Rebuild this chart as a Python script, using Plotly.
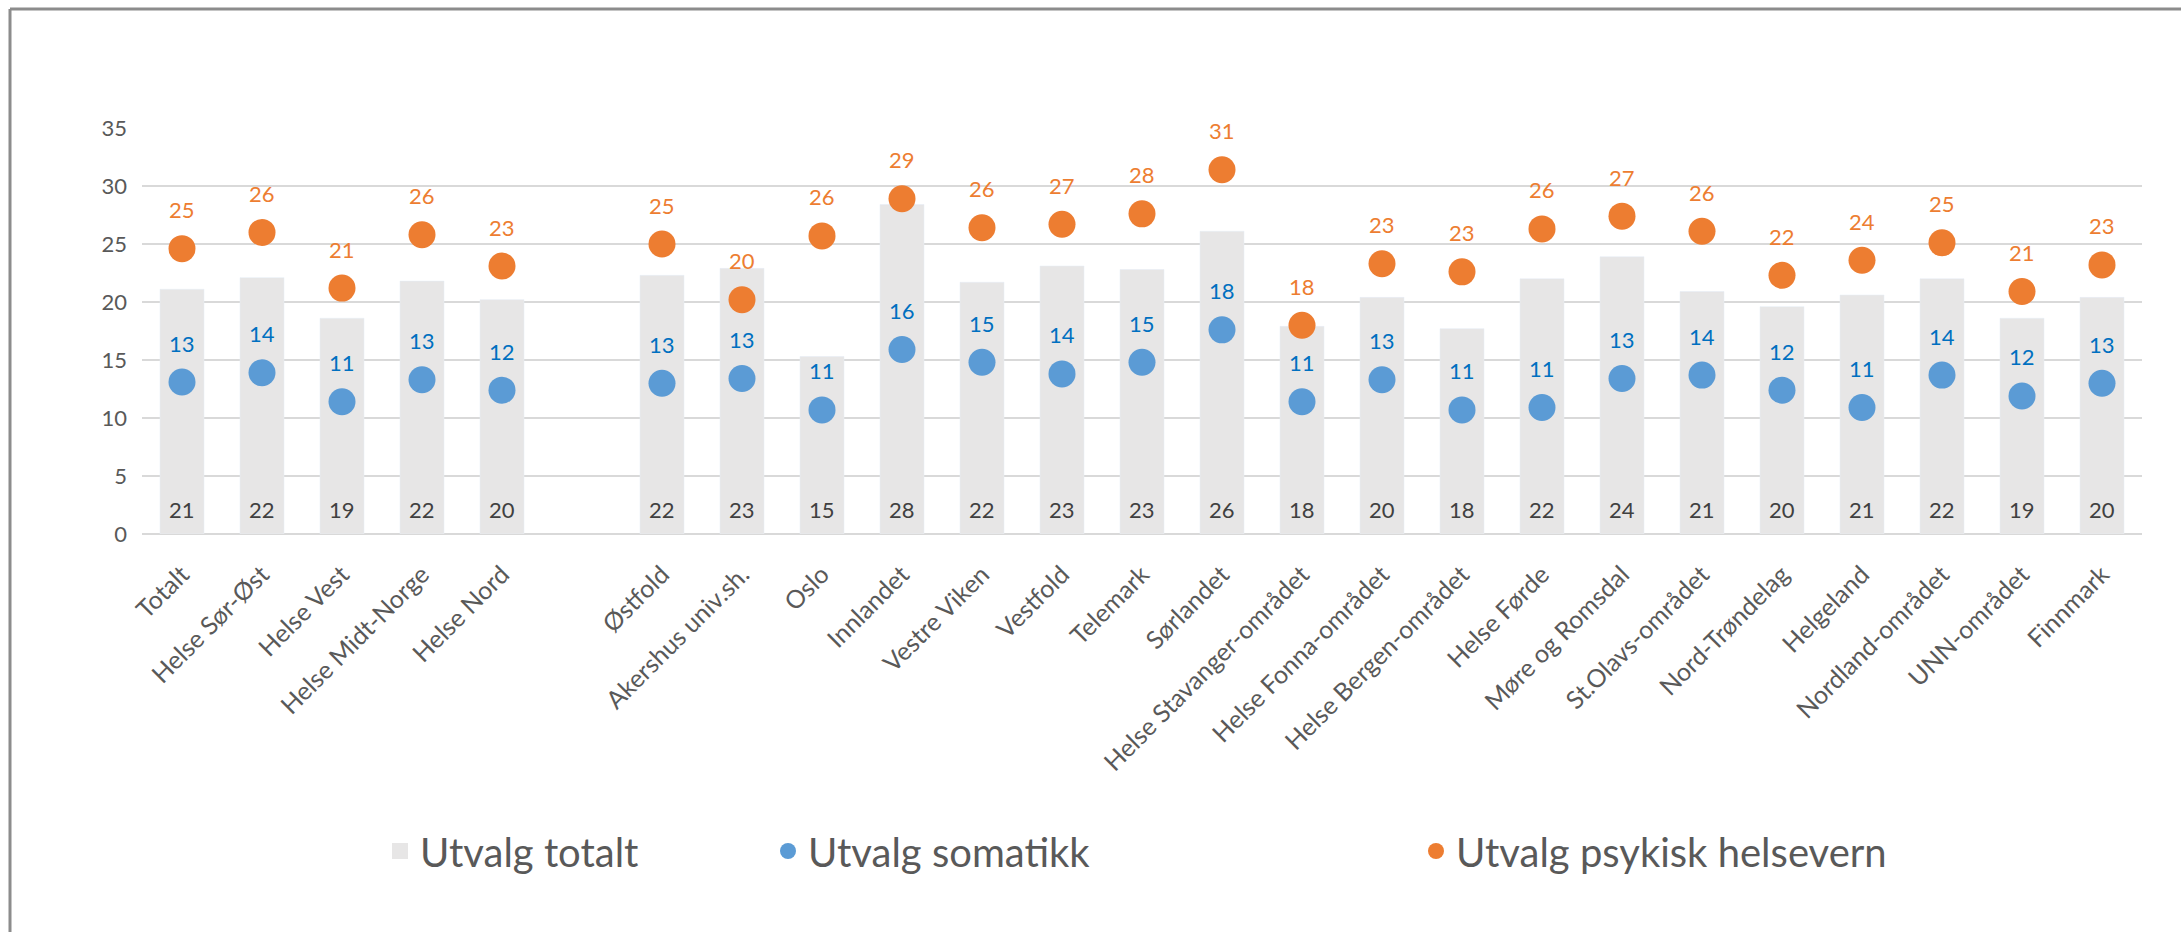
import plotly.graph_objects as go

# categories (one blank slot separates the regions from the hospital areas)
CATEGORIES = [
    "Totalt", "Helse Sør-Øst", "Helse Vest", "Helse Midt-Norge", "Helse Nord",
    " ",
    "Østfold", "Akershus univ.sh.", "Oslo", "Innlandet", "Vestre Viken",
    "Vestfold", "Telemark", "Sørlandet", "Helse Stavanger-området",
    "Helse Fonna-området", "Helse Bergen-området", "Helse Førde",
    "Møre og Romsdal", "St.Olavs-området", "Nord-Trøndelag", "Helgeland",
    "Nordland-området", "UNN-området", "Finnmark",
]

UTVALG_TOTALT = [
    21.1, 22.1, 18.6, 21.8, 20.2,
    None,
    22.3, 22.9, 15.3, 28.4, 21.7, 23.1, 22.8, 26.1, 17.9, 20.4, 17.7, 22.0,
    23.9, 20.9, 19.6, 20.6, 22.0, 18.6, 20.4,
]

UTVALG_SOMATIKK = [
    13.1, 13.9, 11.4, 13.3, 12.4,
    None,
    13.0, 13.4, 10.7, 15.9, 14.8, 13.8, 14.8, 17.6, 11.4, 13.3, 10.7, 10.9,
    13.4, 13.7, 12.4, 10.9, 13.7, 11.9, 13.0,
]

UTVALG_PSYKISK = [
    24.6, 26.0, 21.2, 25.8, 23.1,
    None,
    25.0, 20.2, 25.7, 28.9, 26.4, 26.7, 27.6, 31.4, 18.0, 23.3, 22.6, 26.3,
    27.4, 26.1, 22.3, 23.6, 25.1, 20.9, 23.2,
]

Y_TICKS = [0, 5, 10, 15, 20, 25, 30, 35]

FONT = "Lato, 'Open Sans', sans-serif"
GREY_BAR = "#E7E6E6"
BLUE = "#5B9BD5"
BLUE_TEXT = "#0070C0"
ORANGE = "#ED7D31"
TEXT_GREY = "#595959"
LABEL_SIZE = 22

# plot area in pixels (used to place the frame and legends)
W, H = 2181, 932
L, R, T, B = 142, 39, 128, 398
PW, PH = W - L - R, H - T - B


def px_x(x):
    return (x - L) / PW


def px_y(y):
    return (H - B - y) / PH


def value_labels(values, color, shift, at_base=False):
    """Data labels placed a fixed pixel distance above the point (or the bar base)."""
    notes = []
    for cat, val in zip(CATEGORIES, values):
        if val is None:
            continue
        notes.append(dict(
            x=cat, y=0 if at_base else val, xref="x", yref="y",
            text=f"{val:.0f}", showarrow=False, yanchor="middle",
            yshift=shift,
            font=dict(family=FONT, size=LABEL_SIZE, color=color)))
    return notes


fig = go.Figure()

fig.add_trace(
    go.Bar(
        name="Utvalg totalt",
        x=CATEGORIES,
        y=UTVALG_TOTALT,
        marker_color=GREY_BAR,
        showlegend=False,
    ))

fig.add_trace(
    go.Scatter(
        name="Utvalg somatikk",
        x=CATEGORIES,
        y=UTVALG_SOMATIKK,
        mode="markers",
        marker=dict(color=BLUE, size=27),
        legend="legend2",
    ))

fig.add_trace(
    go.Scatter(
        name="Utvalg psykisk helsevern",
        x=CATEGORIES,
        y=UTVALG_PSYKISK,
        mode="markers",
        marker=dict(color=ORANGE, size=27),
        legend="legend3",
    ))

# legend-only entry for the bars, so the swatch can be a big square
fig.add_trace(
    go.Scatter(
        name="Utvalg totalt",
        x=[None],
        y=[None],
        mode="markers",
        marker=dict(color=GREY_BAR, size=24, symbol="square"),
        legend="legend",
    ))

legend_style = dict(
    orientation="h",
    yanchor="middle",
    y=px_y(851),
    xanchor="left",
    font=dict(family=FONT, size=40, color=TEXT_GREY),
    bgcolor="rgba(0,0,0,0)",
    itemsizing="trace",
)

annotations = (value_labels(UTVALG_TOTALT, "#404040", 25, at_base=True)
               + value_labels(UTVALG_SOMATIKK, BLUE_TEXT, 39)
               + value_labels(UTVALG_PSYKISK, ORANGE, 39))

fig.update_layout(
    width=W,
    height=H,
    margin=dict(l=L, r=R, t=T, b=B, autoexpand=False),
    paper_bgcolor="white",
    plot_bgcolor="white",
    bargap=0.45,
    font=dict(family=FONT, color=TEXT_GREY),
    legend=dict(legend_style, x=px_x(394 - 14)),
    legend2=dict(legend_style, x=px_x(782 - 14)),
    legend3=dict(legend_style, x=px_x(1437 - 21)),
    annotations=annotations,
    xaxis=dict(
        type="category",
        categoryorder="array",
        categoryarray=CATEGORIES,
        range=[-0.5, len(CATEGORIES) - 0.5],
        tickangle=-45,
        tickfont=dict(family=FONT, size=25, color=TEXT_GREY),
        ticklabelstandoff=20,
        showgrid=False,
        showline=False,
        ticks="",
        zeroline=False,
    ),
    yaxis=dict(
        range=[0, 35],
        tickvals=Y_TICKS,
        tickfont=dict(family=FONT, size=22, color=TEXT_GREY),
        showgrid=True,
        gridcolor="#D9D9D9",
        gridwidth=2,
        zeroline=True,
        zerolinecolor="#D9D9D9",
        zerolinewidth=2,
        showline=False,
        ticks="",
        ticklabelstandoff=14,
    ),
    shapes=[
        dict(type="line", xref="paper", yref="paper",
             x0=px_x(10), x1=px_x(10), y0=px_y(9), y1=px_y(H + 5),
             line=dict(color="#8C8C8C", width=3)),
        dict(type="line", xref="paper", yref="paper",
             x0=px_x(10), x1=px_x(W + 5), y0=px_y(9), y1=px_y(9),
             line=dict(color="#8C8C8C", width=3)),
    ],
)

fig.write_html(
    "out.html",
    config={"displayModeBar": False},
    post_script="document.body.style.margin='0';document.body.style.overflow='hidden';")
